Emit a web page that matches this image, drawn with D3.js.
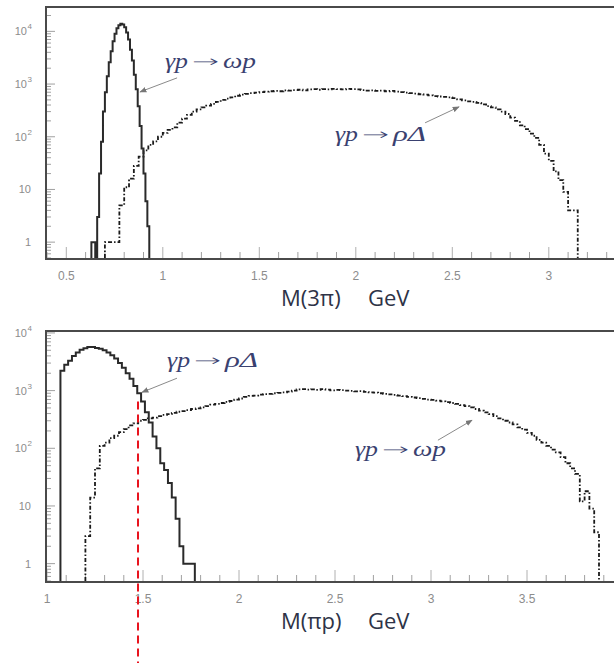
<!DOCTYPE html>
<html>
<head>
<meta charset="utf-8">
<script src="https://cdn.jsdelivr.net/npm/d3@7"></script>
<style>
  html, body { margin: 0; padding: 0; background: #fff; }
  svg { display: block; }
</style>
</head>
<body>
<svg id="chart" width="614" height="663"></svg>
<script>
// ---------------- DATA ----------------
// Top panel: M(3pi) distributions
const topOmegaStart = 0.63, topOmegaWidth = 0.01;      // gamma p -> omega p (solid)
const topOmega = [1, 1, 0, 3, 20, 80, 300, 700, 1400, 2600, 4200, 6500, 9000, 11500, 13000,
  14000, 13500, 12000, 9500, 7000, 4500, 2800, 1500, 800, 380, 160, 60, 20, 6, 2];

const topRhoStart = 0.70, topRhoWidth = 0.025;         // gamma p -> rho Delta (dashed)
const topRho = [1, 1, 1, 5, 11, 16, 28, 42, 55, 70, 82, 100, 118, 135, 150, 185, 220, 260, 300, 330,
  360, 390, 420, 460, 500, 530, 560, 600, 630, 650, 670, 690, 700, 720, 730, 740, 730, 760, 750, 770,
  780, 760, 790, 800, 780, 800, 790, 810, 800, 790, 810, 800, 790, 770, 750, 760, 740, 750, 730, 740,
  720, 700, 690, 670, 660, 640, 630, 610, 590, 580, 570, 560, 540, 510, 490, 470, 460, 440, 410, 380,
  360, 330, 300, 270, 230, 200, 165, 140, 115, 95, 70, 48, 35, 22, 15, 9, 4, 4];

// Bottom panel: M(pi p) distributions
const botRhoStart = 1.07, botRhoWidth = 0.02;          // gamma p -> rho Delta (solid)
const botRho = [2200, 2800, 3300, 4000, 4600, 5100, 5400, 5700, 5700, 5500, 5300, 5000, 4600, 4100,
  3600, 3000, 2500, 2000, 1600, 1200, 900, 650, 420, 280, 160, 100, 55, 42, 25, 14, 6, 2, 1, 1, 1];

const botOmegaStart = 1.20, botOmegaWidth = 0.025;     // gamma p -> omega p (dashed)
const botOmega = [3, 14, 45, 110, 125, 150, 165, 190, 215, 250, 270, 300, 310, 330, 340, 360, 380, 390,
  410, 430, 440, 460, 480, 490, 510, 540, 570, 590, 610, 640, 660, 700, 730, 780, 810, 820, 850, 870,
  880, 900, 910, 930, 960, 1000, 1050, 1060, 1040, 1050, 1030, 1060, 1040, 1010, 1030, 1020, 1000, 990,
  970, 980, 950, 930, 920, 900, 880, 860, 840, 820, 800, 780, 760, 740, 720, 700, 690, 670, 650, 630,
  610, 590, 560, 540, 510, 480, 450, 420, 390, 360, 330, 300, 280, 260, 230, 210, 185, 165, 140, 125,
  110, 95, 85, 70, 55, 45, 36, 12, 18, 9, 3.5];

// Axis tick labels
const topXLabels = [0.5, 1, 1.5, 2, 2.5, 3];
const botXLabels = [1, 1.5, 2, 2.5, 3, 3.5];
const yDecades = [1, 10, 100, 1000, 10000];
const yDecadeExp = ["", "", "2", "3", "4"];
const yDecadeBase = ["1", "10", "10", "10", "10"];

const topTitle = ["M(3\u03c0)", "GeV"];
const botTitle = ["M(\u03c0p)", "GeV"];

// Annotations (data coordinates): left part, arrow, right part
const topAnnot = [
  { left: "\u03b3p", right: "\u03c9p", tx: 1.011, ty: 2020, ax0: 1.074, ay0: 1310, ax1: 0.882, ay1: 710 },
  { left: "\u03b3p", right: "\u03c1\u0394", tx: 1.892, ty: 84, ax0: 2.359, ay0: 184, ax1: 2.535, ay1: 369 }
];
const botAnnot = [
  { left: "\u03b3p", right: "\u03c1\u0394", tx: 1.625, ty: 2540, ax0: 1.677, ay0: 1640, ax1: 1.495, ay1: 935 },
  { left: "\u03b3p", right: "\u03c9p", tx: 2.604, ty: 73, ax0: 3.036, ay0: 138, ax1: 3.214, ay1: 307 }
];
const reactionArrow = "\u2192";
const redLineX = 1.474, redLineTopVal = 650;

// ---------------- DRAW ----------------
const svg = d3.select("#chart");
const defs = svg.append("defs");
defs.append("marker").attr("id", "ah").attr("viewBox", "0 0 10 10")
  .attr("refX", 9).attr("refY", 5).attr("markerWidth", 7).attr("markerHeight", 7)
  .attr("orient", "auto")
  .append("path").attr("d", "M0,1 L10,5 L0,9 Z").attr("fill", "#777");

const annotColor = "#3a4170";
const serif = "Liberation Serif, DejaVu Serif, serif";

function panel(cfg) {
  const { x, y, xTickMin, xTickMax, xLabels, title, solid, dashed, annots } = cfg;
  const g = svg.append("g");
  const [x0] = x.range();
  const [yb, yt] = y.range();
  const ymin = y.domain()[0];

  // x ticks (inside)
  const xt = d3.range(Math.round(xTickMin * 10), Math.round(xTickMax * 10) + 1).map(d => d / 10);
  g.selectAll(".xt").data(xt).enter().append("line")
    .attr("x1", d => x(d)).attr("x2", d => x(d))
    .attr("y1", yb).attr("y2", d => yb - (Math.round(d * 10) % 5 === 0 ? 11 : 6))
    .attr("stroke", d => (Math.round(d * 10) % 5 === 0 ? "#b0b0b0" : "#a0a0a0")).attr("stroke-width", 1);

  // y ticks (inside)
  const yt2 = [];
  let dec = 0.1;
  while (dec < y.domain()[1]) {
    for (let k = 1; k <= 9; k++) {
      const v = dec * k;
      if (v >= ymin && v <= y.domain()[1]) yt2.push({ v, major: k === 1 });
    }
    dec *= 10;
  }
  g.selectAll(".yt").data(yt2).enter().append("line")
    .attr("x1", x0).attr("x2", d => x0 + (d.major ? 8 : 4))
    .attr("y1", d => y(d.v)).attr("y2", d => y(d.v))
    .attr("stroke", "#a0a0a0").attr("stroke-width", 1);

  // histograms
  function histPath(start, width, vals) {
    const pts = [[x(start), y(ymin)]];
    vals.forEach((v, i) => {
      const yy = y(Math.max(v, ymin));
      pts.push([x(start + i * width), yy]);
      pts.push([x(start + (i + 1) * width), yy]);
    });
    pts.push([x(start + vals.length * width), y(ymin)]);
    return d3.line()(pts);
  }
  g.append("path").attr("d", histPath(dashed.start, dashed.width, dashed.vals))
    .attr("fill", "none").attr("stroke", "#1a1a1a").attr("stroke-width", 1.8)
    .attr("stroke-dasharray", "4,2,1.5,2");
  g.append("path").attr("d", histPath(solid.start, solid.width, solid.vals))
    .attr("fill", "none").attr("stroke", "#2a2a2a").attr("stroke-width", 2);

  // frame
  g.append("path").attr("d", `M${x0 - 1},${yt} L700,${yt} M${x0 - 1},${yt - 1} L${x0 - 1},${yb + 1} L700,${yb + 1}`)
    .attr("fill", "none").attr("stroke", "#4a4a4a").attr("stroke-width", 2);

  // x tick labels
  g.selectAll(".xl").data(xLabels).enter().append("text")
    .attr("x", d => x(d)).attr("y", yb + 22)
    .attr("text-anchor", "middle").attr("font-family", "Liberation Sans, Arial, sans-serif")
    .attr("font-size", 12).attr("fill", "#8c8c8c").text(d => d);

  // y tick labels
  yDecades.forEach((v, i) => {
    g.append("text")
      .attr("x", yDecadeExp[i] ? 27 : 31).attr("y", y(v) + 4)
      .attr("text-anchor", "end").attr("font-family", "Liberation Sans, Arial, sans-serif")
      .attr("font-size", 11).attr("fill", "#8c8c8c").text(yDecadeBase[i]);
    if (yDecadeExp[i]) {
      g.append("text").attr("x", 27.5).attr("y", y(v) - 2)
        .attr("font-family", "Liberation Sans, Arial, sans-serif")
        .attr("font-size", 8).attr("fill", "#8c8c8c").text(yDecadeExp[i]);
    }
  });

  // title (two parts)
  g.append("text").attr("x", 281).attr("y", yb + 48)
    .attr("font-family", "Open Sans, sans-serif")
    .attr("font-size", 22).attr("fill", "#2e3347").text(title[0]);
  g.append("text").attr("x", 368).attr("y", yb + 48)
    .attr("font-family", "Open Sans, sans-serif")
    .attr("font-size", 22).attr("fill", "#2e3347").text(title[1]);

  // annotations
  annots.forEach(a => {
    g.append("line")
      .attr("x1", x(a.ax0)).attr("y1", y(a.ay0)).attr("x2", x(a.ax1)).attr("y2", y(a.ay1))
      .attr("stroke", "#8a8a8a").attr("stroke-width", 1).attr("marker-end", "url(#ah)");
    const X = x(a.tx), Y = y(a.ty);
    g.append("text").attr("x", X).attr("y", Y)
      .attr("font-family", serif).attr("font-style", "italic")
      .attr("font-size", 22).attr("fill", annotColor)
      .attr("textLength", 23).attr("lengthAdjust", "spacingAndGlyphs").text(a.left);
    g.append("text").attr("x", X + 27).attr("y", Y - 1)
      .attr("font-family", "DejaVu Sans, sans-serif").attr("font-weight", 200)
      .attr("font-size", 16).attr("fill", annotColor)
      .attr("textLength", 27).attr("lengthAdjust", "spacingAndGlyphs").text(reactionArrow);
    g.append("text").attr("x", X + 58).attr("y", Y)
      .attr("font-family", serif).attr("font-style", "italic")
      .attr("font-size", 22).attr("fill", annotColor)
      .attr("textLength", 33).attr("lengthAdjust", "spacingAndGlyphs").text(a.right);
  });
  return g;
}

const topX = d3.scaleLinear().domain([0.4, 3.5]).range([47, 645.3]);
const topY = d3.scaleLog().domain([0.5, 2.9e4]).range([258, 7]);
const botX = d3.scaleLinear().domain([1, 4]).range([47, 623]);
const botY = d3.scaleLog().domain([0.5, 1.08e4]).range([581, 331]);

panel({ x: topX, y: topY, xTickMin: 0.4, xTickMax: 3.5, xLabels: topXLabels, title: topTitle,
  solid: { start: topOmegaStart, width: topOmegaWidth, vals: topOmega },
  dashed: { start: topRhoStart, width: topRhoWidth, vals: topRho }, annots: topAnnot });
panel({ x: botX, y: botY, xTickMin: 1.0, xTickMax: 4.0, xLabels: botXLabels, title: botTitle,
  solid: { start: botRhoStart, width: botRhoWidth, vals: botRho },
  dashed: { start: botOmegaStart, width: botOmegaWidth, vals: botOmega }, annots: botAnnot });

// red dashed marker line
svg.append("line")
  .attr("x1", botX(redLineX)).attr("x2", botX(redLineX))
  .attr("y1", botY(redLineTopVal)).attr("y2", 663)
  .attr("stroke", "#e8141e").attr("stroke-width", 2).attr("stroke-dasharray", "8,5");
</script>
</body>
</html>
